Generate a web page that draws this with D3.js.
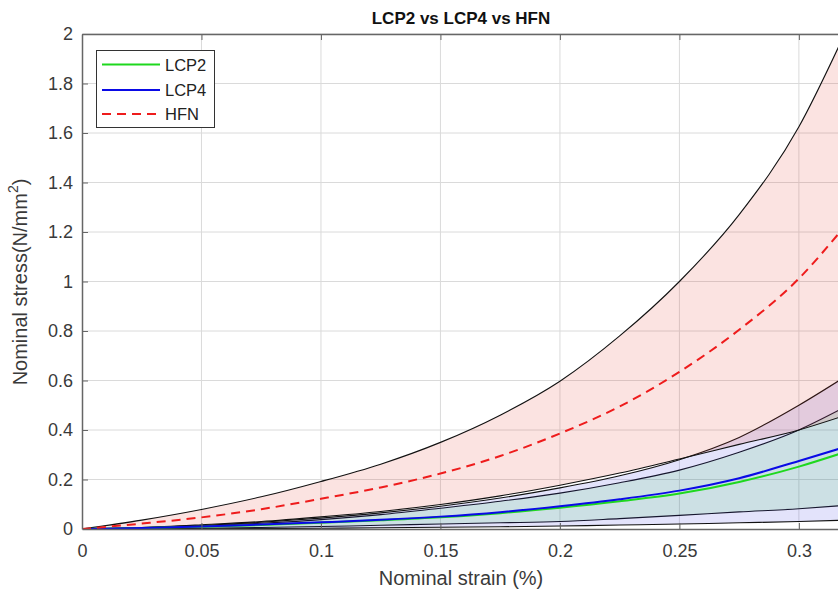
<!DOCTYPE html>
<html><head><meta charset="utf-8">
<script src="https://cdn.jsdelivr.net/npm/d3@7"></script>
<style>
body{margin:0;background:#fff}
svg{display:block}
text{font-family:"Liberation Sans",Arial,Helvetica,sans-serif}
</style>
</head><body>
<svg id="c" width="838" height="591"></svg>
<script>
// ---- data ----
const strain    = [0, 0.025, 0.05, 0.075, 0.1, 0.125, 0.15, 0.175, 0.2, 0.225, 0.25, 0.275, 0.3, 0.3172];
const hfnUpper  = [0, 0.036, 0.079, 0.13, 0.192, 0.262, 0.35, 0.46, 0.597, 0.78, 1.0, 1.27, 1.625, 1.96];
const hfnMean   = [0, 0.022, 0.047, 0.08, 0.122, 0.168, 0.224, 0.295, 0.386, 0.495, 0.635, 0.805, 1.012, 1.2];
const hfnLower  = [0, 0.006, 0.017, 0.03, 0.049, 0.071, 0.099, 0.134, 0.177, 0.226, 0.283, 0.342, 0.40, 0.452];
const lcp4Upper = [0, 0.005, 0.014, 0.027, 0.044, 0.065, 0.092, 0.125, 0.166, 0.215, 0.28, 0.37, 0.50, 0.602];
const lcp4Mean  = [0, 0.004, 0.01, 0.018, 0.027, 0.037, 0.05, 0.068, 0.092, 0.12, 0.155, 0.205, 0.275, 0.325];
const lcp4Lower = [0, 0.0005, 0.001, 0.002, 0.003, 0.005, 0.007, 0.009, 0.012, 0.016, 0.02, 0.025, 0.03, 0.035];
const lcp2Upper = [0, 0.004, 0.012, 0.023, 0.038, 0.058, 0.084, 0.112, 0.145, 0.187, 0.238, 0.31, 0.40, 0.482];
const lcp2Mean  = [0, 0.004, 0.009, 0.016, 0.025, 0.035, 0.047, 0.064, 0.086, 0.112, 0.143, 0.19, 0.252, 0.304];
const lcp2Lower = [0, 0.002, 0.003, 0.006, 0.01, 0.015, 0.02, 0.025, 0.03, 0.042, 0.055, 0.069, 0.082, 0.094];

const xTicks = [0, 0.05, 0.1, 0.15, 0.2, 0.25, 0.3];
const xTickLabels = ["0", "0.05", "0.1", "0.15", "0.2", "0.25", "0.3"];
const yTicks = [0, 0.2, 0.4, 0.6, 0.8, 1, 1.2, 1.4, 1.6, 1.8, 2];
const yTickLabels = ["0", "0.2", "0.4", "0.6", "0.8", "1", "1.2", "1.4", "1.6", "1.8", "2"];
const seriesNames = ["LCP2", "LCP4", "HFN"];

// ---- layout ----
const svg = d3.select("#c");
const L = 82, R = 840, T = 34, B = 529;
const x = d3.scaleLinear().domain([0, 0.3172]).range([L, R]);
const y = d3.scaleLinear().domain([0, 2]).range([B, T]);

svg.append("defs").append("clipPath").attr("id", "clip")
  .append("rect").attr("x", L).attr("y", T).attr("width", R - L).attr("height", B - T);

// grid
const grid = svg.append("g").attr("stroke", "#dadada").attr("stroke-width", 1);
grid.selectAll("line.gx").data(xTicks.slice(1)).join("line")
  .attr("x1", d => x(d)).attr("x2", d => x(d)).attr("y1", T).attr("y2", B);
grid.selectAll("line.gy").data(yTicks.slice(1)).join("line")
  .attr("y1", d => y(d)).attr("y2", d => y(d)).attr("x1", L).attr("x2", R);

const plot = svg.append("g").attr("clip-path", "url(#clip)");
const curve = d3.curveMonotoneX;
function band(lower, upper, fill, op) {
  const idx = d3.range(strain.length);
  plot.append("path").datum(idx)
    .attr("d", d3.area().x(i => x(strain[i])).y0(i => y(lower[i])).y1(i => y(upper[i])).curve(curve))
    .attr("fill", fill).attr("fill-opacity", op).attr("stroke", "none");
  [lower, upper].forEach(arr => {
    plot.append("path").datum(idx)
      .attr("d", d3.line().x(i => x(strain[i])).y(i => y(arr[i])).curve(curve))
      .attr("fill", "none").attr("stroke", "#111").attr("stroke-width", 1.1);
  });
}
band(lcp2Lower, lcp2Upper, "rgb(0,230,0)", 0.1);
band(lcp4Lower, lcp4Upper, "rgb(60,60,230)", 0.14);
band(hfnLower, hfnUpper, "rgb(230,60,40)", 0.14);

function meanLine(arr, color, dash) {
  const idx = d3.range(strain.length);
  plot.append("path").datum(idx)
    .attr("d", d3.line().x(i => x(strain[i])).y(i => y(arr[i])).curve(curve))
    .attr("fill", "none").attr("stroke", color).attr("stroke-width", 2)
    .attr("stroke-dasharray", dash || null);
}
meanLine(lcp2Mean, "#1ed81e");
meanLine(lcp4Mean, "#0a0ae6");
meanLine(hfnMean, "#ee1c1c", "9,6");

// axes
const axisColor = "#666";
const gx = svg.append("g").attr("transform", `translate(0,${B})`)
  .call(d3.axisBottom(x).tickValues(xTicks).tickFormat((d, i) => xTickLabels[i])
    .tickSizeInner(-6).tickSizeOuter(0).tickPadding(15));
const gt = svg.append("g").attr("transform", `translate(0,${T})`)
  .call(d3.axisTop(x).tickValues(xTicks).tickFormat("").tickSizeInner(-6).tickSizeOuter(0));
const gy = svg.append("g").attr("transform", `translate(${L},0)`)
  .call(d3.axisLeft(y).tickValues(yTicks).tickFormat((d, i) => yTickLabels[i])
    .tickSizeInner(-6).tickSizeOuter(0).tickPadding(9));
[gx, gt, gy].forEach(g => {
  g.select(".domain").attr("stroke", axisColor).attr("stroke-width", 1.5);
  g.selectAll(".tick line").attr("stroke", axisColor).attr("stroke-width", 1);
  g.selectAll(".tick text").attr("fill", "#3a3a3a").attr("font-size", 18)
    .attr("font-family", '"Liberation Sans",Arial,sans-serif');
});
gx.selectAll(".tick").filter(d => d === 0).select("line").remove();
gy.selectAll(".tick").filter(d => d === 0 || d === 2).select("line").remove();

// title and labels
svg.append("text").attr("x", 461).attr("y", 24).attr("text-anchor", "middle")
  .attr("font-size", 17).attr("font-weight", "bold").attr("fill", "#111")
  .text("LCP2 vs LCP4 vs HFN");
svg.append("text").attr("x", 461).attr("y", 585).attr("text-anchor", "middle")
  .attr("font-size", 20).attr("fill", "#3a3a3a").text("Nominal strain (%)");
const yl = svg.append("text").attr("transform", "translate(27,282) rotate(-90)")
  .attr("text-anchor", "middle").attr("font-size", 20).attr("fill", "#3a3a3a");
yl.append("tspan").text("Nominal stress(N/mm");
yl.append("tspan").attr("font-size", 14).attr("dy", -9).text("2");
yl.append("tspan").attr("dy", 9).text(")");

// legend
const lg = svg.append("g");
lg.append("rect").attr("x", 96.5).attr("y", 50.5).attr("width", 118).attr("height", 77)
  .attr("fill", "#fff").attr("stroke", "#333").attr("stroke-width", 1);
const legColors = ["#1ed81e", "#0a0ae6", "#ee1c1c"];
const legY = [64.5, 90, 114];
seriesNames.forEach((n, i) => {
  lg.append("line").attr("x1", 102).attr("x2", 160).attr("y1", legY[i]).attr("y2", legY[i])
    .attr("stroke", legColors[i]).attr("stroke-width", 2)
    .attr("stroke-dasharray", i === 2 ? "9,6" : null);
  lg.append("text").attr("x", 165).attr("y", legY[i] + 6).attr("font-size", 16.5)
    .attr("fill", "#222").text(n);
});
</script>
</body></html>
